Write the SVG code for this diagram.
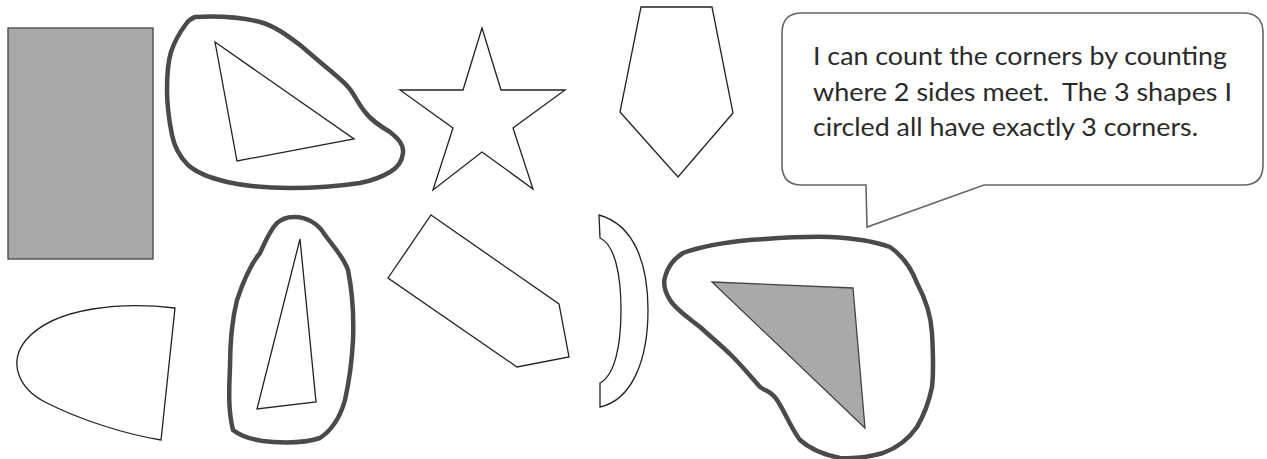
<svg xmlns="http://www.w3.org/2000/svg" width="1267" height="459" viewBox="0 0 1267 459">
<style>
.shape{fill:#fff;stroke:#222;stroke-width:1.3;stroke-linejoin:miter}
.gray{fill:#a9a9a9;stroke:#444;stroke-width:1.3}
.loop{fill:none;stroke:#4a4a4a;stroke-width:4.5;stroke-linejoin:round;stroke-linecap:round}
.bubble{fill:#fff;stroke:#666;stroke-width:1.6}
.txt{font-family:Lato,"Open Sans","Liberation Sans",sans-serif;font-size:24.5px;fill:#2a2a2a}
</style>
<rect width="1267" height="459" fill="#fff"/>
<g id="rectangle"><rect class="gray" x="8" y="28" width="145" height="231"/></g>
<g id="circled-triangle-1">
<path class="loop" d="M195,17 C215,16 240,17 260,22 C275,26 288,36 300,45 C312,55 322,64 332,72 C340,79 347,84 352,92 C357,100 360,106 365,112 C372,121 380,126 390,132 C398,138 404,146 403,153 C402,162 397,168 390,172 C380,178 370,181 360,183 C340,186 315,188 290,188 C265,188 245,186 227,182 C210,178 197,173 188,165 C178,155 174,145 172,135 C169,120 167,105 167,90 C167,75 168,62 171,52 C175,40 180,32 186,24 C189,20 192,18 195,17 Z"/>
<polygon class="shape" points="215,42 354,139 237,161"/>
</g>
<g id="star"><polygon class="shape" points="482,28 501,90 565,90 513,128 533,189 482,152 433,190 453,128 400,90 463,90"/></g>
<g id="pentagon"><polygon class="shape" points="641,7 712,7 733,113 678,177 620,112"/></g>
<g id="speech-bubble">
<path class="bubble" d="M802,13 H1243 Q1263,13 1263,33 V165 Q1263,185 1243,185 H984 L867,227 L866,185 H802 Q782,185 782,165 V33 Q782,13 802,13 Z"/>
<text class="txt" x="813" y="65" textLength="414" lengthAdjust="spacingAndGlyphs">I can count the corners by counting</text>
<text class="txt" x="813" y="101" textLength="419" lengthAdjust="spacingAndGlyphs" xml:space="preserve">where 2 sides meet.  The 3 shapes I</text>
<text class="txt" x="813" y="136" textLength="385" lengthAdjust="spacingAndGlyphs">circled all have exactly 3 corners.</text>
</g>
<g id="half-ellipse"><path class="shape" d="M175,308 C125,302 55,306 26,340 C8,362 18,388 45,402 C80,420 125,434 161,440 Z"/></g>
<g id="circled-triangle-2">
<path class="loop" d="M293,217 C305,216 318,223 325,235 C333,246 343,256 348,270 C352,290 354,315 353,340 C352,360 349,382 345,400 C340,418 332,430 320,438 C305,443 288,443 273,442 C258,441 243,438 233,430 C228,410 229,390 230,367 C230,343 232,320 237,300 C243,282 250,265 260,253 C266,240 270,230 277,223 C282,219 287,217 293,217 Z"/>
<polygon class="shape" points="300,239 316,402 257,409"/>
</g>
<g id="hexagon-arrow"><polygon class="shape" points="431,215 559,304 569,357 517,367 388,278"/></g>
<g id="arc-band"><path class="shape" d="M599,215 C635,225 648,265 648,310 C648,360 632,400 600,407 L600,383 C615,375 621,345 621,310 C621,275 615,245 600,238 Z"/></g>
<g id="circled-triangle-3">
<path class="loop" d="M683,253 C705,245 728,242 750,240 C777,238 803,236 830,237 C852,238 873,241 890,247 C903,256 912,270 917,283 C925,298 931,316 932,333 C933,351 934,370 932,387 C929,402 924,415 917,427 C908,440 897,448 883,453 C869,457 854,459 840,458 C825,455 810,449 800,440 C791,428 785,412 777,400 C771,391 767,392 760,387 C752,378 742,366 733,357 C722,346 711,337 700,327 C689,318 676,310 670,300 C665,292 663,284 665,277 C668,265 675,258 683,253 Z"/>
<polygon class="gray" points="712,282 853,288 865,428"/>
</g>
<g id="connectors"/>
</svg>
